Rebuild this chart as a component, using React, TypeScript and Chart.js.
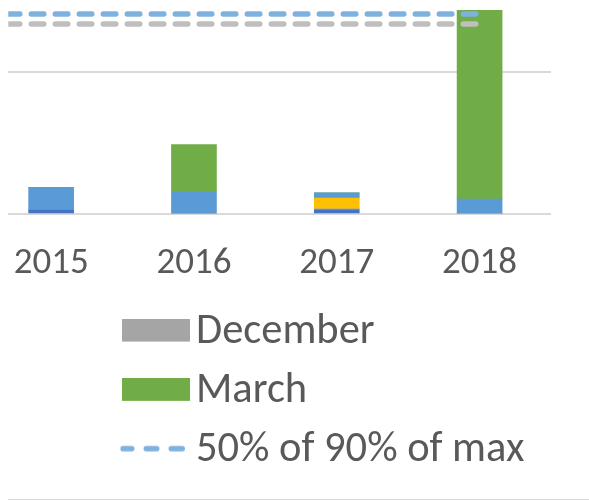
import React, { useEffect, useRef } from 'react';
import { Chart, registerables } from 'chart.js';

Chart.register(...registerables);

// ---- data ----
const years = ['2015', '2016', '2017', '2018'];
const lineYears = ['2014', '2015', '2016', '2017', '2018'];
const seriesOne = [3.0, 0, 3.0, 0]; // dark blue
const december = [0, 0, 0.7, 0]; // gray
const seriesThree = [0, 0, 7.5, 0]; // yellow
const seriesFour = [15.8, 15.7, 3.8, 10.5]; // light blue
const march = [0, 33.3, 0, 303]; // green
const halfOfNinetyOfMax = [141.3, 141.3, 141.3, 141.3, 141.3];
const otherThreshold = [134.2, 134.2, 134.2, 134.2, 134.2];
const gridValues = [0, 100];
const legendNames = ['December', 'March', '50% of 90% of max'];

// ---- style ----
const FONT = 'Carlito, Calibri, Lato, sans-serif';
const TEXT = '#595959';
const BLUE_DASH = '#7FB1DF';
const GRAY_DASH = '#BFBFBF';
const LEGEND_FONT = 42.5;
const LEGEND_PAD = 16.8;
const LEGEND_X = 137.25;
const LEGEND_TOP = 294;
const POINT_W = 37.5;

function rectIcon(color: string) {
  const c = document.createElement('canvas');
  c.width = 68;
  c.height = 27;
  const g = c.getContext('2d')!;
  g.fillStyle = color;
  g.fillRect(0, 0, 68, 23);
  return c;
}
function dashIcon(color: string) {
  const c = document.createElement('canvas');
  c.width = 76;
  c.height = 12;
  const g = c.getContext('2d')!;
  g.strokeStyle = color;
  g.lineWidth = 5.5;
  g.lineCap = 'round';
  [[4.75, 13.75], [28.25, 38.75], [53.25, 64.25]].forEach(([a, b]) => {
    g.beginPath();
    g.moveTo(a, 4);
    g.lineTo(b, 4);
    g.stroke();
  });
  return c;
}

const legendPlacer = {
  id: 'legendPlacer',
  afterLayout(chart: any) {
    const l = chart.legend;
    if (!l) return;
    l.left = LEGEND_X - LEGEND_PAD;
    l.right = 560;
    l.top = LEGEND_TOP;
    l.bottom = 500;
  },
};

export default function App() {
  const ref = useRef<HTMLCanvasElement>(null);

  useEffect(() => {
    const icons: any[] = [
      rectIcon('#4472C4'),
      rectIcon('#A5A5A5'),
      rectIcon('#FFC000'),
      rectIcon('#5B9BD5'),
      rectIcon('#70AD47'),
      dashIcon(BLUE_DASH),
      dashIcon(GRAY_DASH),
    ];
    const bar = (label: string, values: number[], color: string) => ({
      type: 'bar' as const,
      label,
      data: years.map((_, i) => ({ x: i, y: values[i] })),
      backgroundColor: color,
      borderWidth: 0,
      barThickness: 45,
      order: 1,
    });
    const line = (label: string, values: number[], color: string, stack: string) => ({
      type: 'line' as const,
      label,
      data: lineYears.map((yr, i) => ({ x: Number(yr) - Number(years[0]), y: values[i] })),
      borderColor: color,
      backgroundColor: color,
      borderWidth: 5.5,
      borderDash: [12.5, 11.5],
      borderDashOffset: -3,
      borderCapStyle: 'round',
      pointRadius: 0,
      fill: false,
      stack,
      order: 0,
      clip: 0,
    });
    const chart = new Chart(ref.current!, {
      type: 'bar',
      data: {
        datasets: [
          bar('Series 1', seriesOne, '#4472C4'),
          bar('December', december, '#A5A5A5'),
          bar('Series 3', seriesThree, '#FFC000'),
          bar('Series 4', seriesFour, '#5B9BD5'),
          bar('March', march, '#70AD47'),
          line('50% of 90% of max', halfOfNinetyOfMax, BLUE_DASH, 'l1'),
          line('Series 7', otherThreshold, GRAY_DASH, 'l2'),
        ] as any,
      },
      options: {
        responsive: false,
        animation: false,
        layout: { autoPadding: false, padding: { left: 8, right: 38, top: 10, bottom: 58 } },
        scales: {
          x: {
            type: 'linear',
            min: -0.3,
            max: 3.5,
            offset: false,
            stacked: true,
            grid: { display: false, drawTicks: false, tickLength: 0, offset: false },
            border: { display: false },
            afterBuildTicks: (s: any) => {
              s.ticks = years.map((_, i) => ({ value: i }));
            },
            ticks: {
              callback: (v: any) => years[v] ?? '',
              font: { family: FONT, size: 37, lineHeight: 1.984 },
              color: TEXT,
              padding: 13,
              maxRotation: 0,
              autoSkip: false,
            },
          },
          y: {
            min: 0,
            max: 144.1,
            stacked: true,
            grid: { color: '#D9D9D9', lineWidth: 2, drawTicks: false, tickLength: 0 },
            border: { display: false },
            afterBuildTicks: (s: any) => {
              s.ticks = gridValues.map((v) => ({ value: v }));
            },
            ticks: { display: false },
          },
        },
        plugins: {
          tooltip: { enabled: false },
          legend: {
            position: 'bottom',
            align: 'start',
            labels: {
              usePointStyle: true,
              pointStyleWidth: POINT_W,
              padding: LEGEND_PAD,
              font: { family: FONT, size: LEGEND_FONT },
              color: TEXT,
              filter: (item: any) => legendNames.includes(item.text),
              sort: (a: any, b: any) => a.datasetIndex - b.datasetIndex,
              generateLabels: (ch: any) => {
                const items = (Chart.defaults.plugins.legend.labels as any).generateLabels(ch);
                return items.map((it: any) => ({ ...it, pointStyle: icons[it.datasetIndex], fontColor: TEXT }));
              },
            },
          },
        },
      } as any,
      plugins: [legendPlacer],
    });
    return () => chart.destroy();
  }, []);

  return (
    <div style={{ position: 'absolute', left: 0, top: 0, width: 589, height: 500, background: '#fff' }}>
      <canvas ref={ref} width={589} height={500} style={{ display: 'block' }} />
      <div style={{ position: 'absolute', left: 8, top: 499, width: 581, height: 1, background: '#D9D9D9' }} />
    </div>
  );
}
